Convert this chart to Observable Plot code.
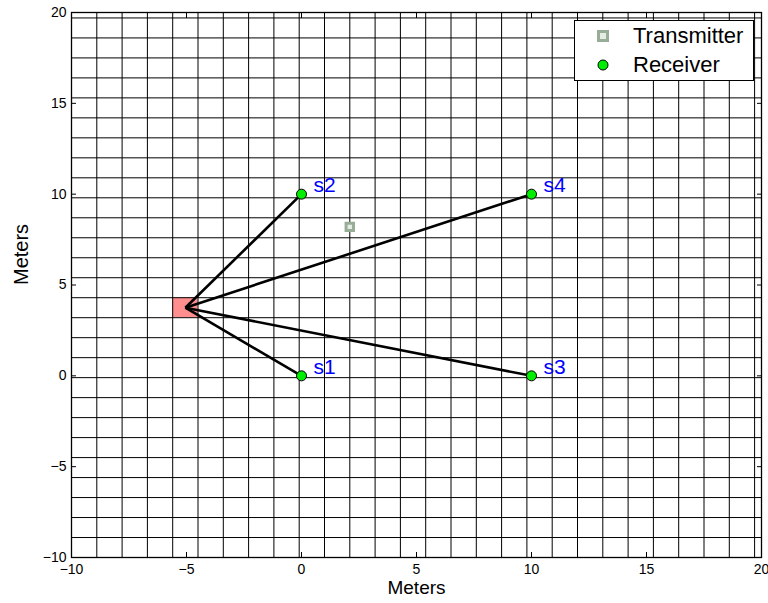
<!DOCTYPE html>
<html>
<head>
<meta charset="utf-8">
<script src="https://cdn.jsdelivr.net/npm/d3@7"></script>
<script src="https://cdn.jsdelivr.net/npm/@observablehq/plot@0.6"></script>
<style>
  html, body { margin: 0; padding: 0; background: #fff; }
  #wrap { position: relative; width: 768px; height: 603px; font-family: "Liberation Sans", Arial, sans-serif; }
  #legend { position: absolute; left: 574px; top: 20px; width: 178px; height: 59px; border: 1px solid #000; background: #fff; }
  .row { position: absolute; left: 0; height: 30px; display: flex; align-items: center; font-size: 22px; color: #000; white-space: nowrap; }
  .row svg { margin-left: 22px; margin-right: 24px; }
</style>
</head>
<body>
<div id="wrap"></div>
<script>
// ---- data ----
const xTicks = [-10, -5, 0, 5, 10, 15, 20];
const yTicks = [-10, -5, 0, 5, 10, 15, 20];
const gridStart = -10;
const gridStep = 1.1;
const gridCount = 28; // lines at -10 + 1.1k, k = 0..27
const receiverNames = ["s1", "s2", "s3", "s4"];
const receiverX = [0, 0, 10, 10];
const receiverY = [0, 10, 0, 10];
const sourceX = -5.05;
const sourceY = 3.75;
const transmitterX = [2.1];
const transmitterY = [8.2];
const cellX1 = [-5.6], cellX2 = [-4.5], cellY1 = [3.2], cellY2 = [4.3];
const legendLabels = ["Transmitter", "Receiver"];
const axisLabel = "Meters";

// ---- derived tables ----
const gridVals = d3.range(gridCount).map(k => +(gridStart + gridStep * k).toFixed(2));
const receivers = receiverNames.map((n, i) => ({name: n, x: receiverX[i], y: receiverY[i]}));
const links = receivers.map(r => ({x1: sourceX, y1: sourceY, x2: r.x, y2: r.y}));
const transmitters = transmitterX.map((x, i) => ({x, y: transmitterY[i]}));
const cells = cellX1.map((x1, i) => ({x1, x2: cellX2[i], y1: cellY1[i], y2: cellY2[i]}));
const fmt = d => d < 0 ? "\u2212" + (-d) : String(d);
const blank = () => "";

const plot = Plot.plot({
  width: 768,
  height: 603,
  marginLeft: 71,
  marginRight: 7,
  marginTop: 12,
  marginBottom: 46,
  style: {fontFamily: "'Liberation Sans', Arial, sans-serif", background: "#fff", color: "#000"},
  x: {domain: [-10, 20]},
  y: {domain: [-10, 20]},
  marks: [
    Plot.rect(cells, {x1: "x1", x2: "x2", y1: "y1", y2: "y2", fill: "#ff7b7b", fillOpacity: 0.85}),
    Plot.ruleX(gridVals, {x: d => d, stroke: "#000", strokeWidth: 1}),
    Plot.ruleY(gridVals, {y: d => d, stroke: "#000", strokeWidth: 1}),
    Plot.link(links, {x1: "x1", y1: "y1", x2: "x2", y2: "y2", stroke: "#000", strokeWidth: 2.6}),
    Plot.dot(transmitters, {x: "x", y: "y", symbol: "square", r: 4.2, stroke: "#98ad98", strokeWidth: 3, fill: "#e4ece4"}),
    Plot.dot(receivers, {x: "x", y: "y", r: 5, fill: "#00ee00", stroke: "#000", strokeWidth: 1}),
    Plot.text(receivers, {x: "x", y: "y", text: "name", dx: 12, dy: -9, textAnchor: "start", fill: "#0000ff", fontSize: 21}),
    Plot.axisX({anchor: "bottom", ticks: xTicks, tickSize: 0, tickPadding: 7, tickFormat: fmt, fontSize: 14, label: null}),
    Plot.axisX({anchor: "bottom", ticks: xTicks, tickSize: -5, tickFormat: blank, label: null}),
    Plot.axisX({anchor: "top", ticks: xTicks, tickSize: -5, tickFormat: blank, label: null}),
    Plot.axisY({anchor: "left", ticks: yTicks, tickSize: 0, tickPadding: 5, tickFormat: fmt, fontSize: 14, label: null}),
    Plot.axisY({anchor: "left", ticks: yTicks, tickSize: -5, tickFormat: blank, label: null}),
    Plot.axisY({anchor: "right", ticks: yTicks, tickSize: -5, tickFormat: blank, label: null}),
    Plot.frame({stroke: "#000", strokeWidth: 1.3}),
    Plot.text([axisLabel], {text: d => d, frameAnchor: "bottom", dy: 36, fontSize: 19}),
    Plot.text([axisLabel], {text: d => d, frameAnchor: "left", dx: -50, rotate: -90, fontSize: 20})
  ]
});

const wrap = document.getElementById("wrap");
wrap.appendChild(plot);

// legend (HTML overlay)
const legend = document.createElement("div");
legend.id = "legend";
const sqSvg = `<svg width="12" height="12"><rect x="1.5" y="1.5" width="9" height="9" fill="#e4ece4" stroke="#98ad98" stroke-width="3"/></svg>`;
const dotSvg = `<svg width="12" height="12"><circle cx="6" cy="6" r="5" fill="#00ee00" stroke="#000" stroke-width="1"/></svg>`;
legend.innerHTML =
  `<div class="row" style="top:0px">${sqSvg}<span>${legendLabels[0]}</span></div>` +
  `<div class="row" style="top:29px">${dotSvg}<span>${legendLabels[1]}</span></div>`;
wrap.appendChild(legend);
</script>
</body>
</html>
